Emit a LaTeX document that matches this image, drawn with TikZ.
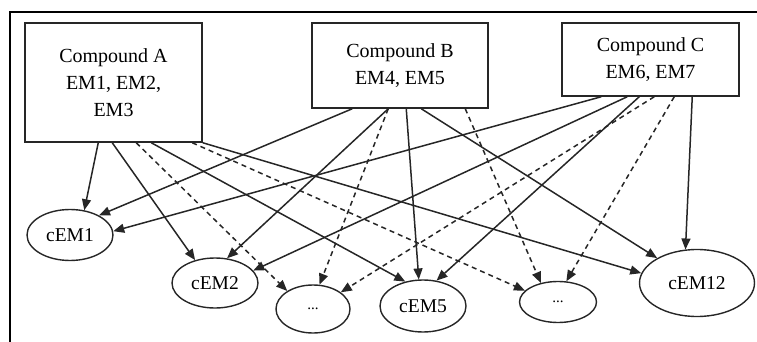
\documentclass[tikz,border=0pt]{standalone}
\usepackage{fontspec}
\setmainfont{Liberation Serif}
\usetikzlibrary{arrows.meta,shapes.geometric,calc}
\definecolor{ink}{gray}{0.15}
\begin{document}
\begin{tikzpicture}[x=1pt,y=-1pt,
  box/.style={draw=ink, line width=1.5pt, rectangle, inner sep=0pt, align=center,
    font=\fontsize{20}{27}\selectfont},
  oval/.style={draw=ink, line width=1.4pt, ellipse, inner sep=0pt,
    font=\fontsize{19.5}{22}\selectfont},
  link/.style={draw=ink, line width=1.5pt, -{Triangle[length=11pt,width=9pt]}},
  dlink/.style={link, dash pattern=on 5pt off 4pt},
  frame/.style={draw=black, line width=2.8pt}]
\useasboundingbox (0,0) rectangle (757,342);
% outer frame (top and left only)
\coordinate (fl) at (10,342);
\coordinate (fc) at (10,12);
\coordinate (fr) at (757,12);
\draw[frame] (fl) -- (fc) -- (fr);
% compounds
\node[box, minimum width=177pt, minimum height=119pt] (A) at (113.5,82.5) {Compound A\\EM1, EM2,\\EM3};
\node[box, minimum width=176pt, minimum height=85pt] (B) at (400,65.5) {Compound B\\EM4, EM5};
\node[box, minimum width=177pt, minimum height=73pt] (C) at (650.5,59.5) {Compound C\\EM6, EM7};
% outputs
\node[oval, minimum width=86pt, minimum height=51pt] (e1) at (70,235) {cEM1};
\node[oval, minimum width=86pt, minimum height=50pt] (e2) at (215,283) {cEM2};
\node[oval, minimum width=74pt, minimum height=48pt, font=\fontsize{15}{18}\selectfont] (d1) at (313,309) {...};
\node[oval, minimum width=86pt, minimum height=52pt] (e5) at (423,306) {cEM5};
\node[oval, minimum width=77pt, minimum height=41pt, font=\fontsize{15}{18}\selectfont] (d2) at (558,302) {...};
\node[oval, minimum width=115pt, minimum height=67pt] (e12) at (697,283) {cEM12};
% from A
\draw[link]  ([xshift=74pt]A.south west) -- (e1.60);
\draw[link]  ([xshift=88pt]A.south west) -- (e2.131);
\draw[dlink] ([xshift=112pt]A.south west) -- (d1.145);
\draw[link]  ([xshift=127pt]A.south west) -- (e5.126);
\draw[dlink] ([xshift=168pt]A.south west) -- (d2.161);
\draw[link]  (A.south east) -- (e12.170);
% from B
\draw[link]  ([xshift=41pt]B.south west) -- (e1.34);
\draw[link]  ([xshift=77pt]B.south west) -- (e2.64);
\draw[dlink] ([xshift=77pt]B.south west) -- (d1.75);
\draw[link]  ([xshift=95pt]B.south west) -- (e5.99);
\draw[link]  ([xshift=110pt]B.south west) -- (e12.148);
\draw[dlink] ([xshift=154pt]B.south west) -- (d2.132);
% from C
\draw[link]  ([xshift=40pt]C.south west) -- (e1.5);
\draw[link]  ([xshift=66pt]C.south west) -- (e2.18);
\draw[link]  ([xshift=78pt]C.south west) -- (e5.62);
\draw[dlink] ([xshift=93pt]C.south west) -- (d1.31);
\draw[dlink] ([xshift=113pt]C.south west) -- (d2.68);
\draw[link]  ([xshift=131pt]C.south west) -- (e12.109);
\end{tikzpicture}
\end{document}
